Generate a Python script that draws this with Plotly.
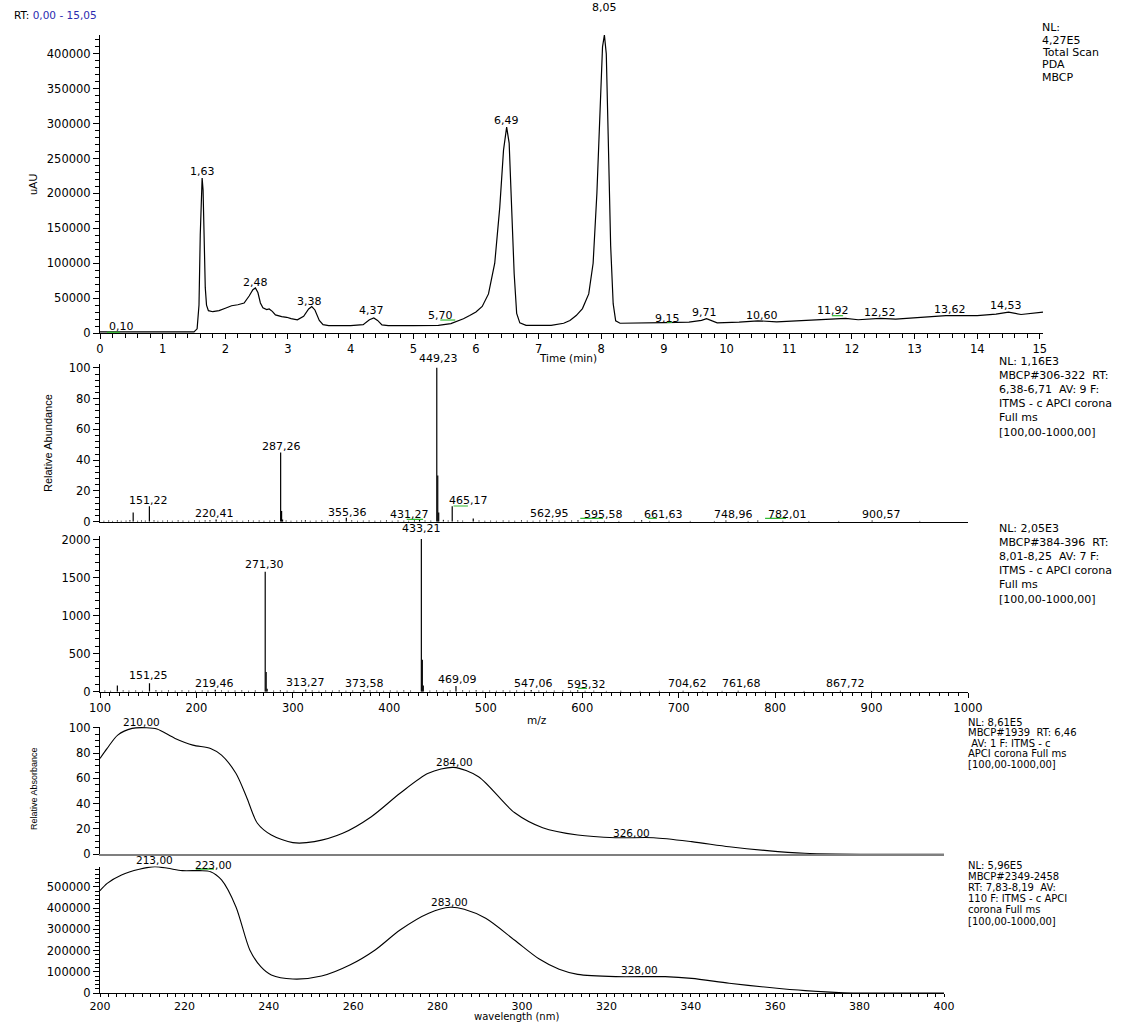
import plotly.graph_objects as go

# ---------------- data ----------------
# Total scan PDA chromatogram (time in min, uAU)
rt_min = [0.00, 0.50, 1.00, 1.50, 1.55, 1.58, 1.60, 1.62, 1.63, 1.645,
          1.66, 1.68, 1.70, 1.73, 1.80, 1.90, 2.00, 2.10, 2.20, 2.30,
          2.38, 2.44, 2.48, 2.52, 2.56, 2.60, 2.66, 2.70, 2.75, 2.80,
          2.90, 2.98, 3.05, 3.15, 3.25, 3.33, 3.38, 3.43, 3.50, 3.56,
          3.65, 4.00, 4.20, 4.30, 4.37, 4.43, 4.50, 4.60, 5.00, 5.40,
          5.60, 5.70, 5.80, 5.90, 6.00, 6.10, 6.20, 6.30, 6.38, 6.44,
          6.49, 6.53, 6.57, 6.61, 6.65, 6.70, 6.80, 7.00, 7.20, 7.40,
          7.50, 7.60, 7.70, 7.80, 7.87, 7.93, 7.98, 8.02, 8.05, 8.08,
          8.11, 8.15, 8.19, 8.23, 8.30, 8.60, 9.00, 9.40, 9.60, 9.68,
          9.75, 9.85, 10.20, 10.50, 10.80, 11.20, 11.60, 11.90, 12.10, 12.45,
          12.70, 13.20, 13.50, 14.00, 14.30, 14.50, 14.70, 15.05]
uau = [1500, 1500, 1200, 1500, 6000, 40000, 140000, 212000, 222000, 205000,
       130000, 65000, 40000, 32000, 30500, 32000, 35500, 39000, 40500, 43000,
       53000, 62000, 64500, 58000, 43000, 36000, 33500, 34500, 31000, 26000,
       23500, 22500, 20500, 18800, 24000, 34500, 38000, 33000, 18000, 12000,
       10500, 10600, 12000, 19000, 21500, 18000, 11500, 10500, 10600, 11000,
       13500, 16500, 20500, 25000, 30000, 38000, 56000, 100000, 180000, 262000,
       295000, 272000, 185000, 85000, 28000, 14500, 11000, 10500, 11000, 14000,
       18000, 25000, 35000, 56000, 100000, 200000, 330000, 410000, 427000, 400000,
       285000, 125000, 42000, 17500, 14000, 14000, 15000, 15500, 18000, 20500,
       18000, 14500, 15700, 17500, 16000, 17500, 19000, 21000, 19000, 21000,
       20000, 23000, 25000, 25000, 27000, 30000, 26500, 30000]
rt_labels = ["0,10", "1,63", "2,48", "3,38", "4,37", "5,70", "6,49", "8,05",
             "9,15", "9,71", "10,60", "11,92", "12,52", "13,62", "14,53"]
rt_label_x = [0.34, 1.63, 2.48, 3.35, 4.33, 5.43, 6.49, 8.05,
              9.06, 9.64, 10.56, 11.70, 12.45, 13.56, 14.46]
rt_label_y = [9300, 231000, 73000, 44900, 32000, 24400, 304000, 466000,
              21000, 29100, 25400, 32500, 29700, 33000, 39100]
rt_green_x0 = [0.11, 5.43, 9.05, 11.68]
rt_green_x1 = [0.32, 5.67, 9.13, 11.86]
rt_green_y = [1000, 18600, 15300, 24800]

# MS spectrum 1 (RT 6,38-6,71), relative abundance
ms1_mz = [134.4, 151.2, 220.4, 287.3, 288.3, 289.3, 313.0, 355.4, 431.3, 449.2,
          450.2, 451.2, 465.2, 487.0, 563.0, 595.6, 661.6, 749.0, 782.0, 900.6]
ms1_ab = [6.0, 10.0, 1.5, 45.0, 7.0, 1.5, 1.0, 2.5, 1.2, 100.0,
          30.0, 6.0, 10.0, 2.0, 1.5, 1.0, 1.0, 0.8, 0.8, 0.8]
ms1_noise_mz = [104, 109, 113, 118, 122, 127, 131, 139, 143, 147, 156, 160, 165, 170,
                175, 181, 186, 192, 198, 203, 209, 214, 226, 231, 237, 242, 248, 254,
                259, 265, 270, 276, 281, 293, 298, 304, 309, 318, 324, 330, 336, 342,
                348, 361, 367, 373, 379, 385, 391, 397, 403, 409, 415, 420, 426, 437,
                443, 456, 461, 471, 476, 493, 499, 505, 511, 518, 524, 530, 537, 543,
                549, 556, 569, 576, 582, 589, 602, 609, 616, 623, 638, 654, 670, 690,
                712, 737, 772, 808, 835, 866, 950]
ms1_noise_ab = [0.6, 0.8, 0.5, 0.9, 0.6, 0.7, 1.0, 0.6, 0.8, 0.7, 0.9, 0.6, 0.7, 0.8,
                0.6, 0.9, 0.7, 0.6, 0.8, 0.7, 0.9, 1.0, 0.7, 0.6, 0.8, 0.7, 0.6, 0.9,
                0.7, 0.8, 0.6, 0.7, 0.9, 0.8, 0.6, 0.7, 0.8, 0.6, 0.7, 0.9, 0.6, 0.8,
                0.7, 0.9, 0.6, 0.7, 0.8, 0.6, 0.7, 0.9, 0.6, 0.8, 0.7, 0.6, 0.9, 0.8,
                0.7, 1.2, 0.8, 0.9, 0.7, 0.8, 0.6, 0.7, 0.6, 0.8, 0.7, 0.6, 0.9, 0.7,
                0.6, 0.8, 0.9, 0.7, 0.6, 0.8, 0.6, 0.7, 0.5, 0.6, 0.5, 0.6, 0.5, 0.6,
                0.5, 0.5, 0.5, 0.6, 0.5, 0.5, 0.5]
ms1_labels = ["151,22", "220,41", "287,26", "355,36", "431,27", "449,23", "465,17",
              "562,95", "595,58", "661,63", "748,96", "782,01", "900,57"]
ms1_label_x = [150.8, 219.0, 287.8, 356.6, 421.0, 450.8, 482.0,
               565.6, 621.6, 683.8, 756.4, 812.4, 909.8]
ms1_label_y = [14.0, 5.5, 49.0, 6.3, 4.4, 106.0, 13.7,
               5.5, 4.6, 4.6, 4.6, 4.6, 4.6]
ms1_green_x0 = [418.0, 466.5, 598.0, 668.0, 789.6]
ms1_green_x1 = [435.0, 481.5, 621.6, 677.5, 811.3]
ms1_green_y = [1.5, 10.2, 2.2, 2.2, 2.2]

# MS spectrum 2 (RT 8,01-8,25), counts
ms2_mz = [118.0, 151.3, 219.5, 271.3, 272.3, 273.3, 313.3, 373.6, 433.2, 434.2,
          435.2, 469.1, 547.1, 595.3, 704.6, 761.7, 867.7]
ms2_ab = [80, 110, 25, 1580, 260, 40, 30, 22, 2010, 420,
          80, 75, 22, 18, 14, 12, 14]
ms2_noise_mz = [105, 111, 124, 130, 137, 144, 158, 164, 171, 178, 185, 192, 199, 206,
                212, 226, 233, 240, 247, 254, 261, 280, 287, 294, 301, 320, 327, 334,
                341, 348, 355, 362, 380, 387, 394, 401, 408, 415, 422, 442, 449, 456,
                463, 476, 483, 490, 497, 504, 511, 518, 525, 532, 540, 555, 563, 571,
                580, 588, 603, 612, 625, 640, 660, 680, 725, 745, 790, 830, 900]
ms2_noise_ab = [15, 12, 18, 14, 16, 12, 20, 14, 17, 13, 18, 15, 12, 16,
                14, 17, 13, 15, 18, 12, 16, 14, 19, 13, 15, 17, 12, 16,
                14, 18, 13, 15, 17, 14, 12, 16, 13, 18, 15, 14, 17, 12,
                16, 18, 14, 20, 13, 15, 12, 17, 14, 16, 13, 15, 12, 14,
                16, 13, 12, 14, 11, 12, 10, 11, 10, 11, 10, 10, 10]
ms2_labels = ["433,21", "271,30", "151,25", "219,46", "313,27", "373,58", "469,09",
              "547,06", "595,32", "704,62", "761,68", "867,72"]
ms2_label_x = [433.2, 271.0, 150.8, 218.8, 313.2, 374.4, 470.7,
               549.0, 604.0, 709.0, 765.6, 872.5]
ms2_label_y = [2153, 1669, 207, 110, 124, 110, 163,
               110, 101, 110, 110, 110]
ms2_green_x0 = [595.6]
ms2_green_x1 = [605.0]
ms2_green_y = [45]

# UV spectrum 1 (relative absorbance)
uv1_nm = [200, 201.7, 204.2, 207.6, 211, 213.5, 217.8, 222, 226.2, 228.8,
          232.2, 234.7, 237.3, 240.6, 245.7, 250.8, 257.5, 264.3, 271.1, 277.8,
          283.8, 289.7, 298.2, 304.9, 313.2, 322.2, 331.2, 340.2, 349.1, 358.1,
          367, 374.3, 385, 400]
uv1_ab = [75.8, 83.7, 94.2, 99.5, 100.0, 99.0, 91.6, 86.3, 83.7, 78.4,
          64.0, 45.5, 24.5, 15.2, 9.2, 10.0, 16.6, 29.7, 48.2, 64.0,
          68.7, 61.3, 33.0, 21.0, 15.2, 13.1, 13.1, 10.0, 6.0, 2.9,
          0.8, 0.2, 0.0, 0.0]
uv1_labels = ["210,00", "284,00", "326,00"]
uv1_label_x = [209.9, 283.9, 326.0]
uv1_label_y = [104.7, 72.7, 17.0]

# UV spectrum 2 (absorbance)
uv2_nm = [200, 201.7, 205.1, 209.3, 213, 216.1, 219.5, 223.7, 226.2, 228.8,
          232.2, 235.5, 238.1, 240.6, 245.7, 252.5, 259.2, 265.2, 271.1, 277.9,
          283, 286.3, 291.4, 298.2, 304.1, 308.8, 313.2, 322.2, 333.9, 340.2,
          349.1, 358.1, 367.1, 376.1, 400]
uv2_ab = [482500, 517000, 556600, 583500, 596000, 588000, 577000, 577000, 572000, 533000,
          407000, 203000, 124000, 85000, 66000, 80000, 132000, 203000, 297000, 376000,
          404000, 395000, 352000, 250000, 160000, 112000, 88000, 77000, 77000, 69000,
          46000, 27000, 11000, 1500, 0]
uv2_labels = ["213,00", "223,00", "283,00", "328,00"]
uv2_label_x = [212.8, 227.0, 282.9, 327.8]
uv2_label_y = [627000, 604000, 431000, 108000]
uv2_green_x0 = [222.7]
uv2_green_x1 = [227.0]
uv2_green_y = [585000]

# side texts
top_info = ["NL:", "4,27E5", "Total Scan", "PDA", "MBCP"]
ms1_info = ["NL: 1,16E3", "MBCP#306-322\u00a0 RT:", "6,38-6,71\u00a0 AV: 9 F:",
            "ITMS - c APCI corona", "Full ms", "[100,00-1000,00]"]
ms2_info = ["NL: 2,05E3", "MBCP#384-396\u00a0 RT:", "8,01-8,25\u00a0 AV: 7 F:",
            "ITMS - c APCI corona", "Full ms", "[100,00-1000,00]"]
uv1_info = ["NL: 8,61E5", "MBCP#1939\u00a0 RT: 6,46", "\u00a0AV: 1 F: ITMS - c",
            "APCI corona Full ms", "[100,00-1000,00]"]
uv2_info = ["NL: 5,96E5", "MBCP#2349-2458", "RT: 7,83-8,19\u00a0 AV:",
            "110 F: ITMS - c APCI", "corona Full ms", "[100,00-1000,00]"]

# ---------------- figure ----------------
W, H = 1134, 1023
FONT = "DejaVu Sans"
ARIAL = "Liberation Sans, Arial"
GREEN = "#33bb33"


def fx(p):
    return p / W


def fy(p):
    return 1 - p / H


def sticks(mz, ab):
    xs, ys = [], []
    for m, a in zip(mz, ab):
        xs += [m, m, None]
        ys += [0, a, None]
    return xs, ys


def segs(x0, x1, y):
    xs, ys = [], []
    for a, b, c in zip(x0, x1, y):
        xs += [a, b, None]
        ys += [c, c, None]
    return xs, ys


# panel geometry (pixel positions of the plotting areas)
X_MAIN = [fx(100), fx(1043)]
X_MS = [fx(100), fx(968)]
X_UV = [fx(100), fx(944)]
Y_DOM = {
    "y": [fy(333), fy(35)],
    "y2": [fy(521.7), fy(364)],
    "y3": [fy(691.7), fy(536)],
    "y4": [fy(854.3), fy(726.5)],
    "y5": [fy(993), fy(866.6)],
}
Y_RNG = {
    "y": [0, 427000],
    "y2": [0, 102.5],
    "y3": [0, 2050],
    "y4": [0, 101],
    "y5": [0, 596000],
}


def ypaper(axis, v):
    d0, d1 = Y_DOM[axis]
    r0, r1 = Y_RNG[axis]
    return d0 + (v - r0) / (r1 - r0) * (d1 - d0)


fig = go.Figure()

# chromatogram
fig.add_trace(go.Scatter(x=rt_min, y=uau, mode="lines", xaxis="x", yaxis="y",
                         line=dict(color="black", width=1.2), hoverinfo="skip"))
gx, gy = segs(rt_green_x0, rt_green_x1, rt_green_y)
fig.add_trace(go.Scatter(x=gx, y=gy, mode="lines", xaxis="x", yaxis="y",
                         line=dict(color=GREEN, width=1.2), hoverinfo="skip"))

# MS 1
nx, ny = sticks(ms1_noise_mz, ms1_noise_ab)
fig.add_trace(go.Scatter(x=nx, y=ny, mode="lines", xaxis="x2", yaxis="y2",
                         line=dict(color="black", width=1), hoverinfo="skip"))
sx, sy = sticks(ms1_mz, ms1_ab)
fig.add_trace(go.Scatter(x=sx, y=sy, mode="lines", xaxis="x2", yaxis="y2",
                         line=dict(color="black", width=1.2), hoverinfo="skip"))
gx, gy = segs(ms1_green_x0, ms1_green_x1, ms1_green_y)
fig.add_trace(go.Scatter(x=gx, y=gy, mode="lines", xaxis="x2", yaxis="y2",
                         line=dict(color=GREEN, width=1.2), hoverinfo="skip"))

# MS 2
nx, ny = sticks(ms2_noise_mz, ms2_noise_ab)
fig.add_trace(go.Scatter(x=nx, y=ny, mode="lines", xaxis="x3", yaxis="y3",
                         line=dict(color="black", width=1), hoverinfo="skip"))
sx, sy = sticks(ms2_mz, ms2_ab)
fig.add_trace(go.Scatter(x=sx, y=sy, mode="lines", xaxis="x3", yaxis="y3",
                         line=dict(color="black", width=1.2), hoverinfo="skip"))
gx, gy = segs(ms2_green_x0, ms2_green_x1, ms2_green_y)
fig.add_trace(go.Scatter(x=gx, y=gy, mode="lines", xaxis="x3", yaxis="y3",
                         line=dict(color=GREEN, width=1.2), hoverinfo="skip"))

# UV 1
fig.add_trace(go.Scatter(x=uv1_nm, y=uv1_ab, mode="lines", xaxis="x4", yaxis="y4",
                         line=dict(color="black", width=1.1, shape="spline", smoothing=0.8),
                         hoverinfo="skip"))
# UV 2
fig.add_trace(go.Scatter(x=uv2_nm, y=uv2_ab, mode="lines", xaxis="x5", yaxis="y5",
                         line=dict(color="black", width=1.1, shape="spline", smoothing=0.8),
                         hoverinfo="skip"))
gx, gy = segs(uv2_green_x0, uv2_green_x1, uv2_green_y)
fig.add_trace(go.Scatter(x=gx, y=gy, mode="lines", xaxis="x5", yaxis="y5",
                         line=dict(color=GREEN, width=1.5), hoverinfo="skip"))

TICKFONT = dict(family=FONT, size=11.5, color="black")


def axis(domain, rng, **kw):
    d = dict(domain=domain, range=rng, showgrid=False, zeroline=False,
             showline=True, linecolor="black", linewidth=1, automargin=False,
             ticks="outside", ticklen=6, tickwidth=1, tickcolor="black",
             tickfont=TICKFONT, fixedrange=True)
    d.update(kw)
    return d


def minor(dt, ln=4):
    return dict(dtick=dt, ticklen=ln, ticks="outside", tickcolor="black", showgrid=False)


fig.update_layout(
    template="none",
    width=W, height=H, margin=dict(l=0, r=0, t=0, b=0, pad=0, autoexpand=False),
    paper_bgcolor="white", plot_bgcolor="white", showlegend=False,
    xaxis=axis(X_MAIN, [0, 15.05], anchor="y", dtick=1, tick0=0, ticklen=5,
               minor=minor(0.2)),
    yaxis=axis(Y_DOM["y"], Y_RNG["y"], anchor="x", dtick=50000, tick0=0,
               tickformat="d", minor=minor(10000)),
    xaxis2=axis(X_MS, [100, 1000], anchor="y2", ticks="", showticklabels=False),
    yaxis2=axis(Y_DOM["y2"], Y_RNG["y2"], anchor="x2", dtick=20, tick0=0, minor=minor(4)),
    xaxis3=axis(X_MS, [100, 1000], anchor="y3", dtick=100, tick0=100, ticklen=5,
                minor=minor(10, 3)),
    yaxis3=axis(Y_DOM["y3"], Y_RNG["y3"], anchor="x3", dtick=500, tick0=0,
                tickformat="d", minor=minor(100)),
    xaxis4=axis(X_UV, [200, 400], anchor="y4", ticks="", showticklabels=False,
                linecolor="#7f7f7f", linewidth=2),
    yaxis4=axis(Y_DOM["y4"], Y_RNG["y4"], anchor="x4", dtick=20, tick0=0, minor=minor(5)),
    xaxis5=axis(X_UV, [200, 400], anchor="y5", dtick=20, tick0=200, ticklen=3,
                tickfont=dict(family=FONT, size=11, color="black"),
                minor=minor(2, 3)),
    yaxis5=axis(Y_DOM["y5"], Y_RNG["y5"], anchor="x5", dtick=100000, tick0=0,
                tickformat="d", minor=minor(20000)),
)

ann = []


def peak_labels(texts, xs, ys, xr, yr, size=11):
    for t, x, y in zip(texts, xs, ys):
        ann.append(dict(text=t, x=x, y=ypaper(yr, y), xref=xr, yref="paper",
                        showarrow=False, xanchor="center", yanchor="middle",
                        font=dict(family=FONT, size=size, color="black")))


peak_labels(rt_labels, rt_label_x, rt_label_y, "x", "y")
peak_labels(ms1_labels, ms1_label_x, ms1_label_y, "x2", "y2")
peak_labels(ms2_labels, ms2_label_x, ms2_label_y, "x3", "y3")
peak_labels(uv1_labels, uv1_label_x, uv1_label_y, "x4", "y4", size=10.5)
peak_labels(uv2_labels, uv2_label_x, uv2_label_y, "x5", "y5", size=10.5)


def info_block(lines, x, y0, step, size):
    for i, t in enumerate(lines):
        ann.append(dict(text=t, x=fx(x), y=fy(y0 + i * step), xref="paper", yref="paper",
                        showarrow=False, xanchor="left", yanchor="middle",
                        font=dict(family=FONT, size=size, color="black")))


info_block(top_info, 1040, 28, 12.3, 11)
info_block(ms1_info, 997, 361, 14.2, 11)
info_block(ms2_info, 997, 528, 14.2, 11)
info_block(uv1_info, 966, 722, 10.6, 10)
info_block(uv2_info, 966, 865, 11.2, 10)


def free_text(t, x, y, size, family=FONT, angle=0, anchor="center"):
    ann.append(dict(text=t, x=fx(x), y=fy(y), xref="paper", yref="paper",
                    showarrow=False, xanchor=anchor, yanchor="middle", textangle=angle,
                    font=dict(family=family, size=size, color="black")))


ann.append(dict(text="RT: <span style='color:#2b2bb0'>0,00 - 15,05</span>",
                x=fx(12), y=fy(15), xref="paper", yref="paper", showarrow=False,
                xanchor="left", yanchor="middle",
                font=dict(family=FONT, size=10.5, color="black")))
free_text("uAU", 33, 185, 11, ARIAL, -90)
free_text("Time (min)", 568, 358, 10.5)
free_text("Relative Abundance", 48, 443, 11, ARIAL, -90)
free_text("m/z", 537, 720, 10.5)
free_text("Relative Absorbance", 34, 789, 9, ARIAL, -90)
free_text("wavelength (nm)", 516, 1016.5, 10)

fig.update_layout(annotations=ann)

fig.write_html("out.html", config={"displayModeBar": False},
               post_script="document.body.style.margin='0px';")
